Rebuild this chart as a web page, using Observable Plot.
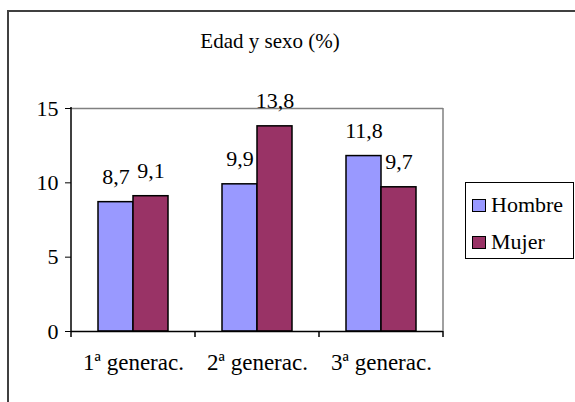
<!DOCTYPE html>
<html>
<head>
<meta charset="utf-8">
<script src="https://cdn.jsdelivr.net/npm/d3@7"></script>
<script src="https://cdn.jsdelivr.net/npm/@observablehq/plot@0.6"></script>
<style>
  html, body { margin: 0; padding: 0; background: #fff; overflow: hidden; }
  #wrap { position: relative; width: 575px; height: 402px; overflow: hidden; font-family: "Liberation Serif", "Times New Roman", Times, "DejaVu Serif", serif; }
  #frame { position: absolute; left: 7px; top: 10px; width: 620px; height: 460px; border: 2px solid #404040; box-sizing: border-box; }
  #title { position: absolute; left: 270px; top: 31px; transform: translateX(-50%); font-size: 21px; line-height: 20px; white-space: nowrap; color: #000; }
  #legend { position: absolute; left: 465px; top: 182px; width: 109px; height: 77px; border: 1px solid #000; box-sizing: border-box; background: #fff; }
  .item { position: absolute; left: 6px; height: 22px; display: flex; align-items: center; font-size: 22px; line-height: 22px; color: #000; }
  .sw { width: 12px; height: 11px; border: 1.5px solid #000; margin-right: 5px; }
  #chart { position: absolute; left: 0; top: 0; }
  #chart svg, #chart svg text { font-family: "Liberation Serif", "Times New Roman", Times, "DejaVu Serif", serif !important; }
</style>
</head>
<body>
<div id="wrap">
  <div id="frame"></div>
  <div id="chart"></div>
  <div id="title"></div>
  <div id="legend"></div>
</div>
<script>
const titleText = "Edad y sexo (%)";
const categories = ["1ª generac.", "2ª generac.", "3ª generac."];
const series = ["Hombre", "Mujer"];
const hombre = [8.7, 9.9, 11.8];
const mujer = [9.1, 13.8, 9.7];
const colors = ["#9999FF", "#993366"];
const yTicks = [0, 5, 10, 15];

const values = {Hombre: hombre, Mujer: mujer};
const data = categories.flatMap((c, i) => series.map(s => ({cat: c, sex: s, value: values[s][i]})));
const fmt = v => v.toFixed(1).replace(".", ",");
const serif = '"Liberation Serif", "Times New Roman", Times, "DejaVu Serif", serif';

const chart = Plot.plot({
  width: 575,
  height: 402,
  marginLeft: 71,
  marginRight: 132,
  marginTop: 108,
  marginBottom: 71,
  style: {fontFamily: serif, fontSize: "20px", color: "#000", background: "transparent", overflow: "visible"},
  fx: {domain: categories, padding: 0, label: null},
  x: {domain: series, paddingInner: 0, paddingOuter: 0.77, axis: null},
  y: {domain: [0, 15], label: null},
  color: {domain: series, range: colors},
  marks: [
    Plot.ruleY([15], {stroke: "#808080", strokeWidth: 1.5}),
    Plot.barY(data, {fx: "cat", x: "sex", y: "value", fill: "sex", stroke: "#000", strokeWidth: 1.5}),
    Plot.text(data, {fx: "cat", x: "sex", y: "value", text: d => fmt(d.value), lineAnchor: "bottom", dy: -18, fontSize: 22, fill: "#000"}),
    Plot.ruleY([0], {stroke: "#000", strokeWidth: 1.5}),
    Plot.axisY({ticks: yTicks, tickSize: 6, tickPadding: 7, fontSize: 22, label: null, stroke: "#000"}),
    Plot.axisFx({anchor: "bottom", tickSize: 0, tickPadding: 22, fontSize: 23, label: null})
  ]
});
document.getElementById("chart").appendChild(chart);

// Excel-style frame decorations, positioned from the plot's own scales
const fxS = chart.scale("fx");
const yS = chart.scale("y");
const band = d3.scaleBand().domain(fxS.domain).range(fxS.range).padding(0);
const [xa, xb] = fxS.range;
const [yb, yt] = yS.range;
const svg = d3.select(chart);
const g = svg.append("g");
g.append("line").attr("x1", xb).attr("x2", xb).attr("y1", yt).attr("y2", yb).attr("stroke", "#808080").attr("stroke-width", 1.5);
g.append("line").attr("x1", xa).attr("x2", xa).attr("y1", yt - 1).attr("y2", yb).attr("stroke", "#000").attr("stroke-width", 1.5);
const bounds = fxS.domain.map(c => band(c)).concat([band(fxS.domain[fxS.domain.length - 1]) + band.bandwidth()]);
g.selectAll("line.bt").data(bounds).join("line").attr("class", "bt")
  .attr("x1", d => d).attr("x2", d => d).attr("y1", yb).attr("y2", yb + 6)
  .attr("stroke", "#000").attr("stroke-width", 1.5);

document.getElementById("title").textContent = titleText;
const legend = document.getElementById("legend");
series.forEach((s, i) => {
  const it = document.createElement("div");
  it.className = "item";
  it.style.top = (11 + i * 37) + "px";
  const sw = document.createElement("div");
  sw.className = "sw";
  sw.style.background = colors[i];
  it.appendChild(sw);
  it.appendChild(document.createTextNode(s));
  legend.appendChild(it);
});
</script>
</body>
</html>
